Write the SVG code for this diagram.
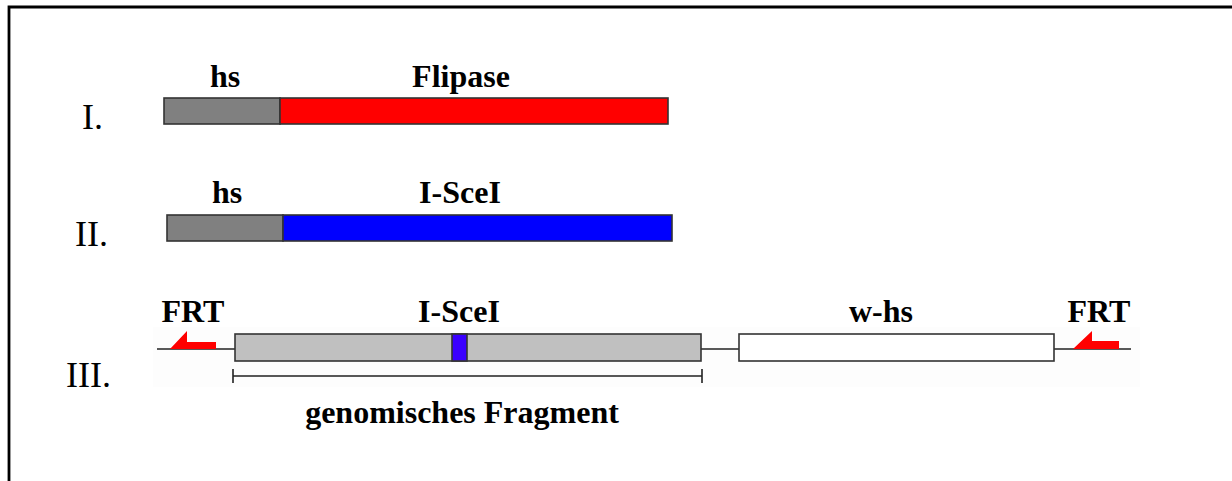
<svg xmlns="http://www.w3.org/2000/svg" width="1232" height="481" viewBox="0 0 1232 481">
<style>
.lbl{font-family:"Liberation Serif","Times New Roman",serif;font-weight:bold;font-size:32px;fill:#000}
.num{font-family:"Liberation Serif","Times New Roman",serif;font-size:36px;fill:#000}
.bar{stroke:#333;stroke-width:1.6}
.ln{stroke:#222;stroke-width:1.6;fill:none}
.frt{fill:#ff0000}
</style>
<rect width="1232" height="481" fill="#fff"/>
<path d="M9,481 V7 H1232" fill="none" stroke="#000" stroke-width="2.8"/>
<rect x="153" y="327" width="987" height="60" fill="#fdfdfd"/>
<g id="connectors">
<line class="ln" x1="157" y1="349" x2="235" y2="349"/>
<line class="ln" x1="701" y1="349" x2="739" y2="349"/>
<line class="ln" x1="1054" y1="349" x2="1131" y2="349"/>
<path class="ln" d="M233,369 V383 M233,376 H702 M702,369 V383"/>
</g>
<g id="row1">
<text class="num" x="82" y="129">I.</text>
<rect class="bar" x="164" y="98" width="116" height="26" fill="#808080"/>
<rect class="bar" x="280" y="98" width="388" height="26" fill="#ff0000"/>
<text class="lbl" x="225" y="87" text-anchor="middle">hs</text>
<text class="lbl" x="461" y="87" text-anchor="middle">Flipase</text>
</g>
<g id="row2">
<text class="num" x="75" y="246">II.</text>
<rect class="bar" x="167" y="215" width="116" height="26" fill="#808080"/>
<rect class="bar" x="283" y="215" width="389" height="26" fill="#0000ff"/>
<text class="lbl" x="227" y="203" text-anchor="middle">hs</text>
<text class="lbl" x="460" y="203" text-anchor="middle">I-SceI</text>
</g>
<g id="row3">
<text class="num" x="66" y="387">III.</text>
<g id="frt-left">
<polygon class="frt" points="170,349 187,331 187,342 216,342 216,349"/>
<text class="lbl" x="193" y="322" text-anchor="middle">FRT</text>
</g>
<g id="fragment">
<rect class="bar" x="235" y="334" width="466" height="27" fill="#c0c0c0"/>
<rect class="bar" x="452" y="334" width="15" height="27" fill="#3a00ff"/>
<text class="lbl" x="459" y="322" text-anchor="middle">I-SceI</text>
<text class="lbl" x="462" y="423" text-anchor="middle">genomisches Fragment</text>
</g>
<g id="whs">
<rect class="bar" x="739" y="334" width="315" height="27" fill="#fff"/>
<text class="lbl" x="881" y="322" text-anchor="middle">w-hs</text>
</g>
<g id="frt-right">
<polygon class="frt" points="1073,349 1092,331 1092,341 1119,341 1119,349"/>
<text class="lbl" x="1099" y="322" text-anchor="middle">FRT</text>
</g>
</g>
</svg>
